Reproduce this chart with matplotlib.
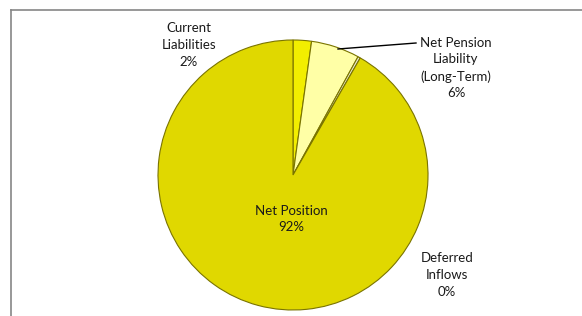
import matplotlib.pyplot as plt
from matplotlib.lines import Line2D

labels = ['Current\nLiabilities\n2%', 'Net Pension\nLiability\n(Long-Term)\n6%',
          'Deferred\nInflows\n0%', 'Net Position\n92%']
values = [2.2, 5.8, 0.3, 91.7]
colors = ['#F2EE00', '#FFFFA6', '#E8E8D0', '#E0D800']

W, H = 582, 316
fig = plt.figure(figsize=(W / 100, H / 100), dpi=100)
ax = fig.add_axes([0, 0, 1, 1])
ax.set_xlim(0, W)
ax.set_ylim(0, H)
ax.axis('off')

# pie centre / radius in pixel units (y up)
cx, cy, r = 293, H - 175, 135
wedges, _ = ax.pie(values, colors=colors, startangle=90, counterclock=False,
                   center=(cx, cy), radius=r, frame=True,
                   wedgeprops=dict(edgecolor='#7a7400', linewidth=0.8))
ax.set_xlim(0, W)
ax.set_ylim(0, H)
ax.axis('off')

font = dict(family=['Lato', 'DejaVu Sans'], fontsize=9.5, ha='center', va='center',
            linespacing=1.45, color='#1a1a1a')
ax.text(189, H - 45, labels[0], **font)
ax.text(456, H - 68, labels[1], **font)
ax.text(447, H - 275, labels[2], **font)
ax.text(291, H - 219, labels[3], **font)

# leader line for net pension liability
ax.plot([338, 416], [H - 49, H - 43], color='black', lw=1.0)

# chart area border (left and top only visible)
fig.add_artist(Line2D([11 / W, 11 / W], [0, 1 - 10 / H], color='#868686', lw=1.2))
fig.add_artist(Line2D([11 / W, 1], [1 - 10 / H, 1 - 10 / H], color='#868686', lw=1.2))

fig.savefig('out.png', dpi=100)
